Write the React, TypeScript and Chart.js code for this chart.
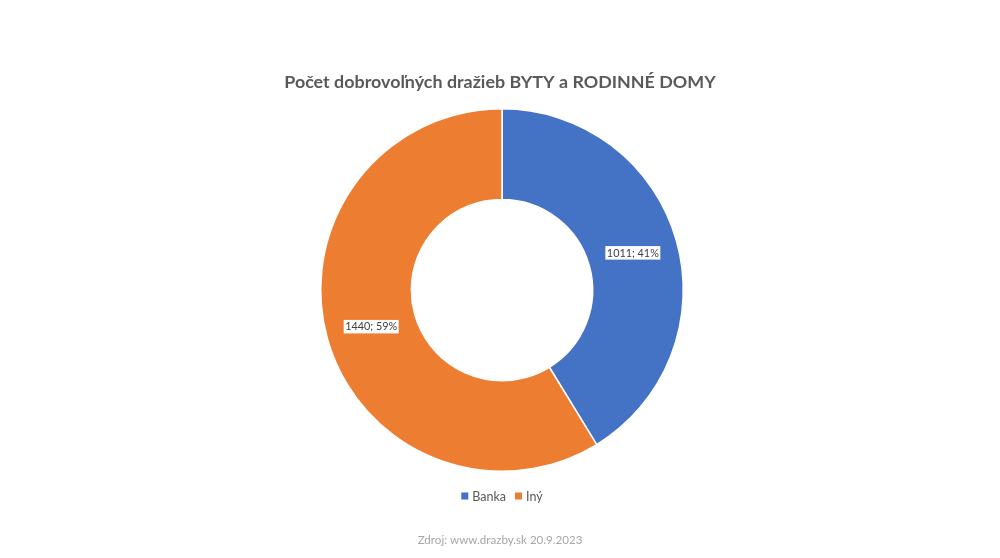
import React, { useEffect, useRef } from "react";
import { Chart, registerables } from "chart.js";

Chart.register(...registerables);

const categories = ["Banka", "Iný"];
const values = [1011, 1440];
const colors = ["#4472C4", "#ED7D31"];
const titleText = "Počet dobrovoľných dražieb BYTY a RODINNÉ DOMY";
const sourceText = "Zdroj: www.drazby.sk 20.9.2023";

const FAMILY = "Lato, 'Open Sans', sans-serif";

function fitSize(ctx: CanvasRenderingContext2D, text: string, target: number, weight: string, base: number) {
  ctx.font = `${weight} ${base}px ${FAMILY}`;
  const w = ctx.measureText(text).width;
  return (base * target) / w;
}

function labelText(v: number, total: number) {
  return `${v}; ${Math.round((v / total) * 100)}%`;
}

const decorPlugin = {
  id: "decor",
  afterDatasetsDraw(chart: any) {
    const ctx: CanvasRenderingContext2D = chart.ctx;
    const meta = chart.getDatasetMeta(0);
    const data = chart.data.datasets[0].data as number[];
    const total = data.reduce((a, b) => a + b, 0);
    ctx.save();
    const size = fitSize(ctx, labelText(data[0], total), 52, "normal", 12);
    meta.data.forEach((arc: any, i: number) => {
      const p = arc.getProps(["x", "y", "startAngle", "endAngle", "innerRadius", "outerRadius"], true);
      const mid = (p.startAngle + p.endAngle) / 2;
      const r = (p.innerRadius + p.outerRadius) / 2;
      const cx = p.x + Math.cos(mid) * r;
      const cy = p.y + Math.sin(mid) * r;
      const txt = labelText(data[i], total);
      ctx.font = `normal ${size}px ${FAMILY}`;
      const w = ctx.measureText(txt).width;
      ctx.fillStyle = "#ffffff";
      ctx.fillRect(cx - w / 2 - 1.5, cy - 7, w + 3, 13.5);
      ctx.fillStyle = "#404040";
      ctx.textAlign = "center";
      ctx.textBaseline = "middle";
      ctx.fillText(txt, cx, cy);
    });
    ctx.restore();
  },
  afterDraw(chart: any) {
    const ctx: CanvasRenderingContext2D = chart.ctx;
    const W = chart.width;
    ctx.save();
    ctx.textBaseline = "middle";
    const ts = fitSize(ctx, titleText, 432, "bold", 18);
    ctx.font = `bold ${ts}px ${FAMILY}`;
    ctx.fillStyle = "#595959";
    ctx.textAlign = "center";
    ctx.fillText(titleText, 500, 82);
    const ls = 12.5;
    ctx.font = `normal ${ls}px ${FAMILY}`;
    const box = 7;
    const gapBox = 4;
    const gapItem = 9;
    const widths = categories.map((c) => box + gapBox + ctx.measureText(c).width);
    const totalW = widths.reduce((a, b) => a + b, 0) + gapItem * (categories.length - 1);
    let x = W / 2 - totalW / 2 + 2;
    const ly = 496;
    ctx.textAlign = "left";
    categories.forEach((c, i) => {
      ctx.fillStyle = colors[i];
      ctx.fillRect(x, ly - box / 2, box, box);
      ctx.fillStyle = "#595959";
      ctx.fillText(c, x + box + gapBox, ly + 0.5);
      x += widths[i] + gapItem;
    });
    const ss = fitSize(ctx, sourceText, 165, "normal", 12);
    ctx.font = `normal ${ss}px ${FAMILY}`;
    ctx.fillStyle = "#A6A6A6";
    ctx.textAlign = "center";
    ctx.fillText(sourceText, 500, 540);
    ctx.restore();
  },
};

export default function App() {
  const ref = useRef<HTMLCanvasElement | null>(null);
  useEffect(() => {
    if (!ref.current) return;
    const chart = new Chart(ref.current, {
      type: "doughnut",
      data: {
        labels: categories,
        datasets: [
          {
            data: values,
            backgroundColor: colors,
            borderColor: "#ffffff",
            borderWidth: 1.5,
          },
        ],
      },
      options: {
        responsive: false,
        animation: false,
        cutout: "50%",
        layout: { padding: { top: 108, bottom: 86, left: 320, right: 316 } },
        plugins: {
          legend: { display: false },
          title: { display: false },
          tooltip: { enabled: false },
        },
      },
      plugins: [decorPlugin],
    });
    return () => chart.destroy();
  }, []);
  return (
    <div style={{ position: "absolute", left: 0, top: 0, width: 1000, height: 558, background: "#ffffff" }}>
      <canvas ref={ref} width={1000} height={558} style={{ display: "block" }} />
    </div>
  );
}
